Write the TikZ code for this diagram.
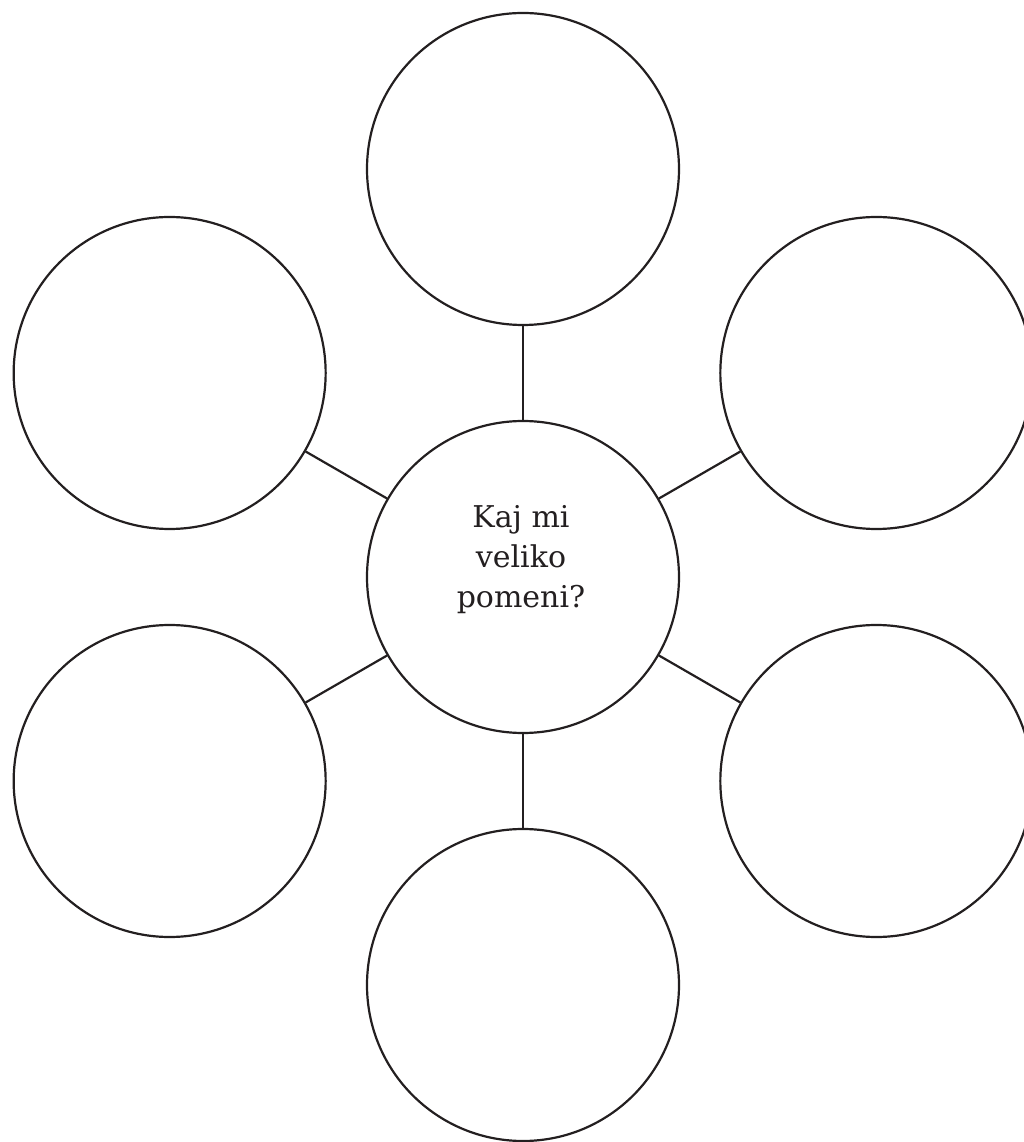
\documentclass[tikz,border=0pt]{standalone}
\usepackage{fontspec}
\setmainfont{DejaVu Serif}
\usetikzlibrary{positioning}
\definecolor{ink}{HTML}{231F20}
\tikzset{bubble/.style={circle,draw=ink,line width=2.2pt,minimum size=312pt,inner sep=0pt},link/.style={draw=ink,line width=2.2pt},question/.style={align=center,text=ink,font=\fontsize{30}{40}\selectfont}}
\begin{document}
\begin{tikzpicture}[x=1pt,y=1pt]
\useasboundingbox (-523,-565) rectangle (501,577);
\clip (-523,-565) rectangle (501,577);
\node[bubble] (mid) at (0,0) {};
\node[question] (txt) at (-2,17) {Kaj mi\\veliko\\pomeni?};
\node[bubble] (top) at (90:408) {};
\node[bubble] (upleft) at (150:408) {};
\node[bubble] (lowleft) at (210:408) {};
\node[bubble] (bot) at (270:408) {};
\node[bubble] (lowright) at (330:408) {};
\node[bubble] (upright) at (30:408) {};
\draw[link] (mid) -- (top);
\draw[link] (mid) -- (upleft);
\draw[link] (mid) -- (lowleft);
\draw[link] (mid) -- (bot);
\draw[link] (mid) -- (lowright);
\draw[link] (mid) -- (upright);
\end{tikzpicture}
\end{document}
